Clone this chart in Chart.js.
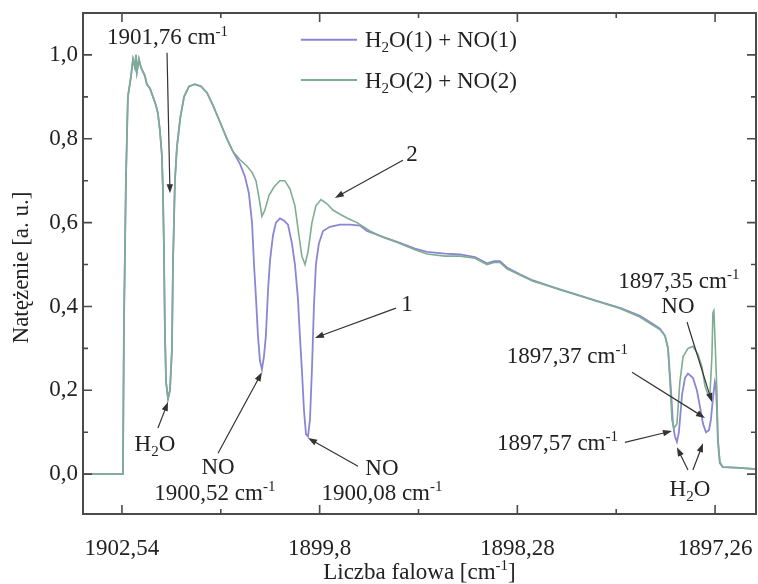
<!DOCTYPE html>
<html>
<head>
<meta charset="utf-8">
<script src="https://cdn.jsdelivr.net/npm/chart.js@4.4.1/dist/chart.umd.min.js"></script>
<style>
html, body { margin: 0; padding: 0; background: #fff; }
</style>
</head>
<body>
<canvas id="spectrum" width="758" height="584"></canvas>
<script>
// x axis is the scan position; tick labels are the wavenumbers printed on the figure
var xTickPos = [0, 100, 200, 300];
var xTickLabels = ['1902,54', '1899,8', '1898,28', '1897,26'];
var xMinorPos = [50, 150, 250];
var yTickPos = [0, 0.2, 0.4, 0.6, 0.8, 1.0];
var yMinorPos = [0.1, 0.3, 0.5, 0.7, 0.9];

// both spectra run together up to the first NO band
var edgeX = [-19.7, 0.5, 1.0, 2.0, 3.0, 4.6, 5.6, 6.6, 7.1, 7.6,
    8.6, 9.6, 10.6, 11.6, 12.6, 14.2, 15.7, 17.2, 18.2, 19.2,
    20.2, 20.7, 21.2, 21.7, 22.3, 23.3, 24.3, 25.3, 25.8, 26.3,
    26.8, 27.8, 29.5, 31.4, 33.9, 36.9, 40.0, 43.0, 46.0, 49.6,
    53.1, 56.1];
var edgeY = [0, 0, 0.35, 0.7, 0.9, 0.95, 0.99, 0.97, 1.0, 0.96,
    0.99, 0.97, 0.96, 0.95, 0.93, 0.92, 0.90, 0.88, 0.86, 0.82,
    0.76, 0.68, 0.55, 0.35, 0.22, 0.18, 0.2, 0.3, 0.5, 0.6,
    0.7, 0.78, 0.85, 0.9, 0.925, 0.93, 0.925, 0.91, 0.88, 0.84,
    0.80, 0.77];

// H2O(2) + NO(2)
var greenX = edgeX.concat([59.7, 63.2, 65.8, 67.8, 69.3, 70.8, 72.3, 74.4,
    76.9, 79.9, 82.4, 85.0, 87.5, 89.5, 91.0, 92.6, 94.1, 96.1,
    98.1, 100.7, 103.7, 106.7, 110.3, 114.3, 118.9, 125.4, 132.0, 140.6,
    148.2, 154.3, 163.4, 171.0, 178.6, 184.6, 188.2, 191.2, 194.7, 201.3,
    207.9, 215.0, 221.5, 231.7, 241.8, 251.9, 262.0, 268.6, 272.1, 274.7,
    276.2, 277.2, 278.2, 279.2, 280.7, 282.2, 283.8, 286.3, 288.8, 291.4,
    293.4, 294.9, 296.4, 297.4, 298.4, 298.9, 299.4, 299.9, 300.9, 301.4,
    302.4, 303.9, 312.6, 320.7]);
var greenY = edgeY.concat([0.75, 0.735, 0.72, 0.70, 0.66, 0.615, 0.63, 0.665,
    0.685, 0.70, 0.70, 0.68, 0.64, 0.57, 0.52, 0.50, 0.53, 0.60,
    0.64, 0.655, 0.645, 0.63, 0.62, 0.61, 0.60, 0.58, 0.565, 0.55,
    0.535, 0.525, 0.52, 0.52, 0.515, 0.50, 0.505, 0.505, 0.49, 0.475,
    0.46, 0.45, 0.44, 0.425, 0.41, 0.395, 0.375, 0.355, 0.345, 0.33,
    0.30, 0.22, 0.13, 0.11, 0.12, 0.22, 0.28, 0.30, 0.305, 0.285,
    0.255, 0.21, 0.19, 0.19, 0.28, 0.385, 0.39, 0.33, 0.2, 0.09,
    0.03, 0.017, 0.015, 0.012]);

// H2O(1) + NO(1)
var blueX = edgeX.concat([59.7, 62.2, 64.2, 65.8, 66.8, 67.8, 68.8, 69.8, 70.8, 71.8,
    72.8, 73.9, 74.9, 76.4, 77.9, 79.9, 81.9, 84.0, 86.0, 87.5,
    89.0, 90.0, 91.0, 92.1, 93.1, 94.1, 95.1, 96.1, 97.1, 98.1,
    99.6, 101.7, 105.2, 110.3, 115.3, 120.4, 123.9, 132.0, 140.6, 148.2,
    154.3, 163.4, 171.0, 178.6, 184.6, 188.2, 191.2, 194.7, 201.3, 207.9,
    215.0, 221.5, 231.7, 241.8, 251.9, 262.0, 268.6, 272.1, 274.7, 276.2,
    277.7, 278.7, 279.7, 280.7, 281.7, 283.3, 284.8, 286.3, 288.8, 290.8,
    292.4, 293.9, 295.4, 296.9, 297.9, 298.9, 299.9, 300.4, 300.9, 301.4,
    302.4, 303.9, 312.6, 320.7]);
var blueY = edgeY.concat([0.74, 0.71, 0.67, 0.60, 0.50, 0.42, 0.33, 0.27, 0.25, 0.28,
    0.33, 0.44, 0.51, 0.57, 0.60, 0.61, 0.605, 0.595, 0.55, 0.50,
    0.42, 0.33, 0.25, 0.15, 0.095, 0.09, 0.13, 0.25, 0.40, 0.50,
    0.55, 0.58, 0.59, 0.595, 0.595, 0.593, 0.58, 0.566, 0.552, 0.538,
    0.53, 0.526, 0.524, 0.518, 0.503, 0.508, 0.508, 0.493, 0.477, 0.462,
    0.451, 0.441, 0.426, 0.411, 0.397, 0.378, 0.358, 0.347, 0.33, 0.30,
    0.2, 0.12, 0.09, 0.077, 0.10, 0.19, 0.23, 0.24, 0.23, 0.20,
    0.16, 0.12, 0.10, 0.105, 0.13, 0.18, 0.22, 0.21, 0.16, 0.08,
    0.026, 0.017, 0.015, 0.012]);

// labels on the plot, in data units
var notes = [
    {parts: [['1901,76 cm', 0], ['-1', 1]], x: -7.6, y: 1.043, align: 'left'},
    {parts: [['2', 0]], x: 146.7, y: 0.766},
    {parts: [['1', 0]], x: 144.2, y: 0.408},
    {parts: [['H', 0], ['2', -1], ['O', 0]], x: 16.7, y: 0.074},
    {parts: [['NO', 0]], x: 48.6, y: 0.019},
    {parts: [['1900,52 cm', 0], ['-1', 1]], x: 47, y: -0.043},
    {parts: [['NO', 0]], x: 131.5, y: 0.017},
    {parts: [['1900,08 cm', 0], ['-1', 1]], x: 131.5, y: -0.043},
    {parts: [['1897,35 cm', 0], ['-1', 1]], x: 281.7, y: 0.463},
    {parts: [['NO', 0]], x: 281.2, y: 0.403},
    {parts: [['1897,37 cm', 0], ['-1', 1]], x: 255.9, y: 0.284, align: 'right'},
    {parts: [['1897,57 cm', 0], ['-1', 1]], x: 250.9, y: 0.076, align: 'right'},
    {parts: [['H', 0], ['2', -1], ['O', 0]], x: 287.3, y: -0.033}
];
var arrows = [
    [[22.8, 1.005], [24.3, 0.67]],
    [[142.1, 0.749], [107.7, 0.659]],
    [[138.6, 0.396], [97.6, 0.325]],
    [[18.2, 0.110], [23.3, 0.172]],
    [[48.6, 0.050], [70.8, 0.243]],
    [[119.4, 0.019], [94.1, 0.086]],
    [[285.8, 0.363], [298.4, 0.172]],
    [[258.0, 0.243], [294.9, 0.134]],
    [[254.4, 0.076], [278.2, 0.103]],
    [[286.3, 0.010], [280.7, 0.064]],
    [[288.8, 0.010], [293.9, 0.074]]
];
var legendItems = [
    {parts: [['H', 0], ['2', -1], ['O(1) + NO(1)', 0]], color: '#8a86d6', y: 1.036},
    {parts: [['H', 0], ['2', -1], ['O(2) + NO(2)', 0]], color: '#7eae90', y: 0.940}
];

var FONT = '"Liberation Serif", "DejaVu Serif", serif';
var FSIZE = 23;
var INK = '#222';

function toPoints(xs, ys) {
    var pts = [];
    for (var i = 0; i < xs.length; i++) pts.push({x: xs[i], y: ys[i]});
    return pts;
}

function partFont(kind, size) {
    return (kind === 0 ? size : Math.round(size * 0.66)) + 'px ' + FONT;
}

function richWidth(ctx, parts, size) {
    var w = 0;
    parts.forEach(function (p) {
        ctx.font = partFont(p[1], size);
        w += ctx.measureText(p[0]).width;
    });
    return w;
}

// draws text with super/subscripts, y is the vertical middle
function drawRich(ctx, parts, x, y, size, align) {
    var w = richWidth(ctx, parts, size);
    var cx = align === 'left' ? x : (align === 'right' ? x - w : x - w / 2);
    var base = y + size * 0.33;
    ctx.textAlign = 'left';
    ctx.textBaseline = 'alphabetic';
    ctx.fillStyle = INK;
    parts.forEach(function (p) {
        ctx.font = partFont(p[1], size);
        var dy = p[1] === 1 ? -size * 0.38 : (p[1] === -1 ? size * 0.22 : 0);
        ctx.fillText(p[0], cx, base + dy);
        cx += ctx.measureText(p[0]).width;
    });
}

function drawArrow(ctx, x1, y1, x2, y2) {
    var ang = Math.atan2(y2 - y1, x2 - x1);
    var len = 9, half = 3.2;
    ctx.strokeStyle = '#333';
    ctx.fillStyle = '#333';
    ctx.lineWidth = 1.2;
    ctx.beginPath();
    ctx.moveTo(x1, y1);
    ctx.lineTo(x2 - Math.cos(ang) * len * 0.6, y2 - Math.sin(ang) * len * 0.6);
    ctx.stroke();
    ctx.beginPath();
    ctx.moveTo(x2, y2);
    ctx.lineTo(x2 - Math.cos(ang) * len - Math.sin(ang) * half, y2 - Math.sin(ang) * len + Math.cos(ang) * half);
    ctx.lineTo(x2 - Math.cos(ang) * len + Math.sin(ang) * half, y2 - Math.sin(ang) * len - Math.cos(ang) * half);
    ctx.closePath();
    ctx.fill();
}

var framePlugin = {
    id: 'framePlugin',
    afterDraw: function (chart) {
        var ctx = chart.ctx;
        var a = chart.chartArea;
        var sx = chart.scales.x, sy = chart.scales.y;
        ctx.save();

        // frame
        ctx.strokeStyle = '#4a4a4a';
        ctx.lineWidth = 2;
        ctx.strokeRect(a.left, a.top, a.right - a.left, a.bottom - a.top);

        // inward ticks on all four sides
        ctx.lineWidth = 1.6;
        ctx.beginPath();
        function xTick(v, l) {
            var px = sx.getPixelForValue(v);
            ctx.moveTo(px, a.bottom); ctx.lineTo(px, a.bottom - l);
            ctx.moveTo(px, a.top); ctx.lineTo(px, a.top + l);
        }
        function yTick(v, l) {
            var py = sy.getPixelForValue(v);
            ctx.moveTo(a.left, py); ctx.lineTo(a.left + l, py);
            ctx.moveTo(a.right, py); ctx.lineTo(a.right - l, py);
        }
        xTickPos.forEach(function (v) { xTick(v, 9); });
        xMinorPos.forEach(function (v) { xTick(v, 5); });
        yTickPos.forEach(function (v) { yTick(v, 9); });
        yMinorPos.forEach(function (v) { yTick(v, 5); });
        ctx.stroke();

        // axis titles
        drawRich(ctx, [['Liczba falowa [cm', 0], ['-1', 1], [']', 0]], (a.left + a.right) / 2, 571, FSIZE, 'center');
        ctx.save();
        ctx.translate(20, (a.top + a.bottom) / 2 + 4);
        ctx.rotate(-Math.PI / 2);
        drawRich(ctx, [['Natężenie [a. u.]', 0]], 0, 0, FSIZE, 'center');
        ctx.restore();

        // legend
        legendItems.forEach(function (it) {
            var py = sy.getPixelForValue(it.y);
            ctx.strokeStyle = it.color;
            ctx.lineWidth = 2;
            ctx.beginPath();
            ctx.moveTo(sx.getPixelForValue(90.5), py);
            ctx.lineTo(sx.getPixelForValue(118.9), py);
            ctx.stroke();
            drawRich(ctx, it.parts, sx.getPixelForValue(122.9), py, FSIZE, 'left');
        });

        // annotations
        notes.forEach(function (n) {
            drawRich(ctx, n.parts, sx.getPixelForValue(n.x), sy.getPixelForValue(n.y), FSIZE, n.align || 'center');
        });
        arrows.forEach(function (ar) {
            drawArrow(ctx, sx.getPixelForValue(ar[0][0]), sy.getPixelForValue(ar[0][1]),
                sx.getPixelForValue(ar[1][0]), sy.getPixelForValue(ar[1][1]));
        });
        ctx.restore();
    }
};

var spectrumChart = new Chart(document.getElementById('spectrum').getContext('2d'), {
    type: 'line',
    data: {
        datasets: [
            {
                label: 'H2O(1) + NO(1)',
                data: toPoints(blueX, blueY),
                borderColor: '#8a86d6',
                borderWidth: 1.8,
                pointRadius: 0,
                tension: 0,
                fill: false,
                order: 1
            },
            {
                label: 'H2O(2) + NO(2)',
                data: toPoints(greenX, greenY),
                borderColor: '#7eae90',
                borderWidth: 1.6,
                pointRadius: 0,
                tension: 0,
                fill: false,
                order: 0
            }
        ]
    },
    options: {
        responsive: false,
        animation: false,
        layout: {padding: {top: 13, right: 2, left: 0, bottom: 0}},
        plugins: {legend: {display: false}, tooltip: {enabled: false}},
        scales: {
            x: {
                type: 'linear',
                min: -19.7,
                max: 320.7,
                grid: {display: false, drawTicks: false},
                border: {display: false},
                afterBuildTicks: function (s) {
                    s.ticks = xTickPos.map(function (v) { return {value: v}; });
                },
                afterFit: function (s) {
                    s.height = 70;
                    s.paddingLeft = 0;
                    s.paddingRight = 0;
                },
                ticks: {
                    autoSkip: false,
                    maxRotation: 0,
                    padding: 21,
                    color: INK,
                    font: {family: FONT, size: FSIZE},
                    callback: function (v) { return xTickLabels[xTickPos.indexOf(v)]; }
                }
            },
            y: {
                min: -0.095,
                max: 1.10,
                grid: {display: false, drawTicks: false},
                border: {display: false},
                afterBuildTicks: function (s) {
                    s.ticks = yTickPos.map(function (v) { return {value: v}; });
                },
                afterFit: function (s) {
                    s.width = 83;
                    s.paddingTop = 0;
                    s.paddingBottom = 0;
                },
                ticks: {
                    padding: 5,
                    color: INK,
                    font: {family: FONT, size: FSIZE},
                    callback: function (v) { return v.toFixed(1).replace('.', ','); }
                }
            }
        }
    },
    plugins: [framePlugin]
});
</script>
</body>
</html>
